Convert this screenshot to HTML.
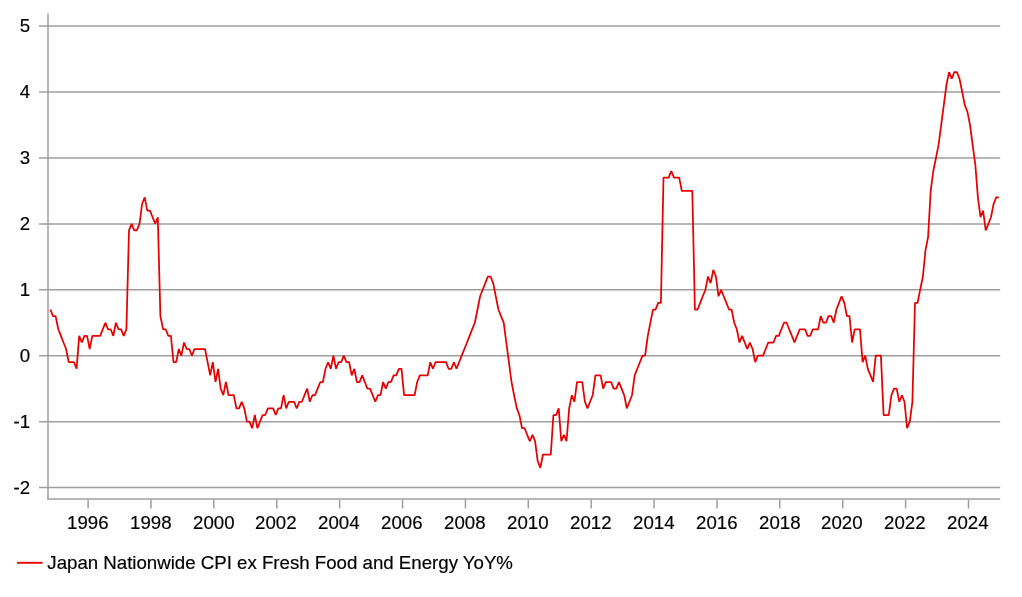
<!DOCTYPE html>
<html><head><meta charset="utf-8"><title>Chart</title>
<style>
html,body{margin:0;padding:0;background:#fff;}
body{width:1022px;height:597px;overflow:hidden;}
svg{display:block;will-change:transform;}
text{font-family:"Liberation Sans",sans-serif;font-size:18.67px;fill:#000;stroke:#000;stroke-width:0.18px;}
</style></head><body>
<svg width="1022" height="597" viewBox="0 0 1022 597">
<rect width="1022" height="597" fill="#fff"/>
<line x1="39" x2="1000.2" y1="487.55" y2="487.55" stroke="#9e9e9e" stroke-width="1.5"/>
<line x1="39" x2="1000.2" y1="421.70" y2="421.70" stroke="#9e9e9e" stroke-width="1.5"/>
<line x1="39" x2="1000.2" y1="355.70" y2="355.70" stroke="#9e9e9e" stroke-width="1.5"/>
<line x1="39" x2="1000.2" y1="289.80" y2="289.80" stroke="#9e9e9e" stroke-width="1.5"/>
<line x1="39" x2="1000.2" y1="223.92" y2="223.92" stroke="#9e9e9e" stroke-width="1.5"/>
<line x1="39" x2="1000.2" y1="158.00" y2="158.00" stroke="#9e9e9e" stroke-width="1.5"/>
<line x1="39" x2="1000.2" y1="92.00" y2="92.00" stroke="#9e9e9e" stroke-width="1.5"/>
<line x1="39" x2="1000.2" y1="26.00" y2="26.00" stroke="#9e9e9e" stroke-width="1.5"/>
<line x1="48" x2="48" y1="13.4" y2="499.75" stroke="#9e9e9e" stroke-width="1.5"/>
<line x1="47.25" x2="1000.2" y1="499.0" y2="499.0" stroke="#9e9e9e" stroke-width="1.5"/>
<line x1="88.10" x2="88.10" y1="499.6" y2="508.5" stroke="#9e9e9e" stroke-width="1.5"/>
<text x="67" y="528.9">1996</text>
<line x1="150.99" x2="150.99" y1="499.6" y2="508.5" stroke="#9e9e9e" stroke-width="1.5"/>
<text x="130" y="528.9">1998</text>
<line x1="213.87" x2="213.87" y1="499.6" y2="508.5" stroke="#9e9e9e" stroke-width="1.5"/>
<text x="193" y="528.9">2000</text>
<line x1="276.76" x2="276.76" y1="499.6" y2="508.5" stroke="#9e9e9e" stroke-width="1.5"/>
<text x="255" y="528.9">2002</text>
<line x1="339.64" x2="339.64" y1="499.6" y2="508.5" stroke="#9e9e9e" stroke-width="1.5"/>
<text x="318" y="528.9">2004</text>
<line x1="402.53" x2="402.53" y1="499.6" y2="508.5" stroke="#9e9e9e" stroke-width="1.5"/>
<text x="381" y="528.9">2006</text>
<line x1="465.42" x2="465.42" y1="499.6" y2="508.5" stroke="#9e9e9e" stroke-width="1.5"/>
<text x="444" y="528.9">2008</text>
<line x1="528.30" x2="528.30" y1="499.6" y2="508.5" stroke="#9e9e9e" stroke-width="1.5"/>
<text x="507" y="528.9">2010</text>
<line x1="591.19" x2="591.19" y1="499.6" y2="508.5" stroke="#9e9e9e" stroke-width="1.5"/>
<text x="570" y="528.9">2012</text>
<line x1="654.07" x2="654.07" y1="499.6" y2="508.5" stroke="#9e9e9e" stroke-width="1.5"/>
<text x="633" y="528.9">2014</text>
<line x1="716.96" x2="716.96" y1="499.6" y2="508.5" stroke="#9e9e9e" stroke-width="1.5"/>
<text x="696" y="528.9">2016</text>
<line x1="779.85" x2="779.85" y1="499.6" y2="508.5" stroke="#9e9e9e" stroke-width="1.5"/>
<text x="759" y="528.9">2018</text>
<line x1="842.73" x2="842.73" y1="499.6" y2="508.5" stroke="#9e9e9e" stroke-width="1.5"/>
<text x="821" y="528.9">2020</text>
<line x1="905.62" x2="905.62" y1="499.6" y2="508.5" stroke="#9e9e9e" stroke-width="1.5"/>
<text x="884" y="528.9">2022</text>
<line x1="968.50" x2="968.50" y1="499.6" y2="508.5" stroke="#9e9e9e" stroke-width="1.5"/>
<text x="947" y="528.9">2024</text>
<text x="30.1" y="493.95" text-anchor="end">-2</text>
<text x="30.1" y="428.10" text-anchor="end">-1</text>
<text x="30.1" y="362.10" text-anchor="end">0</text>
<text x="30.1" y="296.20" text-anchor="end">1</text>
<text x="30.1" y="230.32" text-anchor="end">2</text>
<text x="30.1" y="164.40" text-anchor="end">3</text>
<text x="30.1" y="98.40" text-anchor="end">4</text>
<text x="30.1" y="32.40" text-anchor="end">5</text>
<polyline fill="none" stroke="#e60000" stroke-width="1.75" stroke-linejoin="bevel" stroke-linecap="butt" points="50.4,309.5 53.0,316.1 55.6,316.1 58.3,329.3 60.9,335.9 63.5,342.5 66.1,349.0 68.7,362.2 71.4,362.2 74.0,362.2 76.6,368.8 79.2,335.9 81.8,342.5 84.5,335.9 87.1,335.9 89.7,349.0 92.3,335.9 94.9,335.9 97.6,335.9 100.2,335.9 102.8,329.3 105.4,322.7 108.0,329.3 110.7,329.3 113.3,335.9 115.9,322.7 118.5,329.3 121.1,329.3 123.8,335.9 126.4,329.3 129.0,230.4 131.6,223.8 134.2,230.4 136.9,230.4 139.5,223.8 142.1,204.0 144.7,197.4 147.3,210.6 150.0,210.6 152.6,217.2 155.2,223.8 157.8,217.2 160.4,316.1 163.1,329.3 165.7,329.3 168.3,335.9 170.9,335.9 173.5,362.2 176.2,362.2 178.8,349.0 181.4,355.6 184.0,342.5 186.6,349.0 189.3,349.0 191.9,355.6 194.5,349.0 197.1,349.0 199.7,349.0 202.4,349.0 205.0,349.0 207.6,362.2 210.2,375.4 212.8,362.2 215.5,382.0 218.1,368.8 220.7,388.6 223.3,395.2 225.9,382.0 228.6,395.2 231.2,395.2 233.8,395.2 236.4,408.4 239.0,408.4 241.7,401.8 244.3,408.4 246.9,421.6 249.5,421.6 252.1,428.2 254.8,415.0 257.4,428.2 260.0,421.6 262.6,415.0 265.2,415.0 267.9,408.4 270.5,408.4 273.1,408.4 275.7,415.0 278.3,408.4 281.0,408.4 283.6,395.2 286.2,408.4 288.8,401.8 291.4,401.8 294.1,401.8 296.7,408.4 299.3,401.8 301.9,401.8 304.5,395.2 307.2,388.6 309.8,401.8 312.4,395.2 315.0,395.2 317.6,388.6 320.3,382.0 322.9,382.0 325.5,368.8 328.1,362.2 330.7,368.8 333.4,355.6 336.0,368.8 338.6,362.2 341.2,362.2 343.8,355.6 346.5,362.2 349.1,362.2 351.7,375.4 354.3,368.8 356.9,382.0 359.6,382.0 362.2,375.4 364.8,382.0 367.4,388.6 370.0,388.6 372.7,395.2 375.3,401.8 377.9,395.2 380.5,395.2 383.1,382.0 385.8,388.6 388.4,382.0 391.0,382.0 393.6,375.4 396.2,375.4 398.9,368.8 401.5,368.8 404.1,395.2 406.7,395.2 409.3,395.2 412.0,395.2 414.6,395.2 417.2,382.0 419.8,375.4 422.4,375.4 425.1,375.4 427.7,375.4 430.3,362.2 432.9,368.8 435.5,362.2 438.2,362.2 440.8,362.2 443.4,362.2 446.0,362.2 448.6,368.8 451.3,368.8 453.9,362.2 456.5,368.8 459.1,362.2 461.7,355.6 464.4,349.0 467.0,342.5 469.6,335.9 472.2,329.3 474.8,322.7 477.5,309.5 480.1,296.3 482.7,289.7 485.3,283.1 487.9,276.5 490.6,276.5 493.2,283.1 495.8,296.3 498.4,309.5 501.0,316.1 503.7,322.7 506.3,342.5 508.9,362.2 511.5,382.0 514.1,395.2 516.8,408.4 519.4,415.0 522.0,428.2 524.6,428.2 527.2,434.8 529.9,441.3 532.5,434.8 535.1,441.3 537.7,461.1 540.3,467.7 543.0,454.5 545.6,454.5 548.2,454.5 550.8,454.5 553.4,415.0 556.1,415.0 558.7,408.4 561.3,441.3 563.9,434.8 566.5,441.3 569.2,408.4 571.8,395.2 574.4,401.8 577.0,382.0 579.6,382.0 582.3,382.0 584.9,401.8 587.5,408.4 590.1,401.8 592.7,395.2 595.4,375.4 598.0,375.4 600.6,375.4 603.2,388.6 605.8,382.0 608.5,382.0 611.1,382.0 613.7,388.6 616.3,388.6 618.9,382.0 621.6,388.6 624.2,395.2 626.8,408.4 629.4,401.8 632.0,395.2 634.7,375.4 637.3,368.8 639.9,362.2 642.5,355.6 645.1,355.6 647.8,335.9 650.4,322.7 653.0,309.5 655.6,309.5 658.2,302.9 660.9,302.9 663.5,177.6 666.1,177.6 668.7,177.6 671.3,171.0 674.0,177.6 676.6,177.6 679.2,177.6 681.8,190.8 684.4,190.8 687.1,190.8 689.7,190.8 692.3,190.8 694.9,309.5 697.5,309.5 700.2,302.9 702.8,296.3 705.4,289.7 708.0,276.5 710.6,283.1 713.3,269.9 715.9,276.5 718.5,296.3 721.1,289.7 723.7,296.3 726.4,302.9 729.0,309.5 731.6,309.5 734.2,322.7 736.8,329.3 739.5,342.5 742.1,335.9 744.7,342.5 747.3,349.0 749.9,342.5 752.6,349.0 755.2,362.2 757.8,355.6 760.4,355.6 763.0,355.6 765.7,349.0 768.3,342.5 770.9,342.5 773.5,342.5 776.1,335.9 778.8,335.9 781.4,329.3 784.0,322.7 786.6,322.7 789.2,329.3 791.9,335.9 794.5,342.5 797.1,335.9 799.7,329.3 802.3,329.3 805.0,329.3 807.6,335.9 810.2,335.9 812.8,329.3 815.4,329.3 818.1,329.3 820.7,316.1 823.3,322.7 825.9,322.7 828.5,316.1 831.2,316.1 833.8,322.7 836.4,309.5 839.0,302.9 841.6,296.3 844.3,302.9 846.9,316.1 849.5,316.1 852.1,342.5 854.7,329.3 857.4,329.3 860.0,329.3 862.6,362.2 865.2,355.6 867.8,368.8 870.5,375.4 873.1,382.0 875.7,355.6 878.3,355.6 880.9,355.6 883.6,415.0 886.2,415.0 888.8,415.0 891.4,395.2 894.0,388.6 896.7,388.6 899.3,401.8 901.9,395.2 904.5,401.8 907.1,428.2 909.8,421.6 912.4,401.8 915.0,302.9 917.6,302.9 920.2,289.7 922.9,276.5 925.5,250.2 928.1,237.0 930.7,190.8 933.3,171.0 936.0,157.8 938.6,144.7 941.2,124.9 943.8,105.1 946.4,85.3 949.1,72.1 951.7,78.7 954.3,72.1 956.9,72.1 959.5,78.7 962.2,91.9 964.8,105.1 967.4,111.7 970.0,124.9 972.6,144.7 975.3,164.4 977.9,197.4 980.5,217.2 983.1,210.6 985.7,230.4 988.4,223.8 991.0,217.2 993.6,204.0 996.2,197.4 998.8,197.4"/>
<line x1="17.1" x2="42.6" y1="562.8" y2="562.8" stroke="#e60000" stroke-width="1.9"/>
<text x="47.3" y="568.9">Japan Nationwide CPI ex Fresh Food and Energy YoY%</text>
</svg>
</body></html>
